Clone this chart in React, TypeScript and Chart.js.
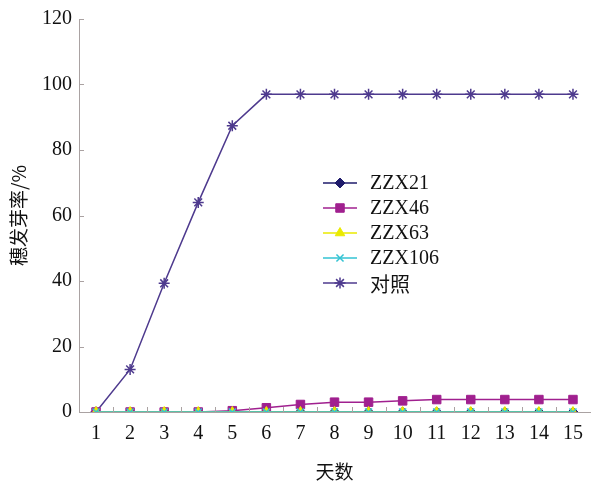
import React, { useEffect, useRef } from "react";
import { Chart, registerables } from "chart.js";
import { drawPoint } from "chart.js/helpers";

Chart.register(...registerables);

const days = ["1", "2", "3", "4", "5", "6", "7", "8", "9", "10", "11", "12", "13", "14", "15"];
const zzx21 = [0, 0, 0, 0, 0, 0, 0, 0, 0, 0, 0, 0, 0, 0, 0];
const zzx46 = [0, 0, 0, 0, 0.4, 1.3, 2.3, 3, 3, 3.4, 3.8, 3.8, 3.8, 3.8, 3.8];
const zzx63 = [0, 0, 0, 0, 0, 0, 0, 0, 0, 0, 0, 0, 0, 0, 0];
const zzx106 = [0, 0, 0, 0, 0, 0, 0, 0, 0, 0, 0, 0, 0, 0, 0];
const control = [0, 13, 39.3, 64, 87.4, 97, 97, 97, 97, 97, 97, 97, 97, 97, 97];
const seriesNames = ["ZZX21", "ZZX46", "ZZX63", "ZZX106", "对照"];
const yMin = 0;
const yMax = 120;
const yStep = 20;
const xTitle = "天数";
const yTitle = "穗发芽率/%";

const SERIF = "'Liberation Serif', 'Times New Roman', serif";
const CJK = "'Noto Sans CJK SC', 'Noto Sans', sans-serif";
const AXIS_COLOR = "#aaa2a2";

const innerTicks = {
  id: "innerTicks",
  afterDraw(chart: any) {
    const { ctx, chartArea, scales } = chart;
    const x = scales.x;
    const y = scales.y;
    ctx.save();
    ctx.strokeStyle = AXIS_COLOR;
    ctx.lineWidth = 1;
    ctx.beginPath();
    y.ticks.forEach((t: any) => {
      const py = Math.round(y.getPixelForValue(t.value)) + 0.5;
      ctx.moveTo(chartArea.left, py);
      ctx.lineTo(chartArea.left + 5, py);
    });
    for (let i = 0; i < days.length - 1; i++) {
      const px = Math.round((x.getPixelForValue(i) + x.getPixelForValue(i + 1)) / 2) + 0.5;
      ctx.moveTo(px, chartArea.bottom);
      ctx.lineTo(px, chartArea.bottom - 5);
    }
    ctx.stroke();
    ctx.restore();
  },
};

const customLegend = {
  id: "customLegend",
  afterDraw(chart: any) {
    const { ctx } = chart;
    const x0 = 323;
    const y0 = 183;
    const rowH = 25;
    ctx.save();
    chart.data.datasets.forEach((ds: any, i: number) => {
      const yy = y0 + i * rowH;
      ctx.strokeStyle = ds.borderColor;
      ctx.lineWidth = 1.5;
      ctx.beginPath();
      ctx.moveTo(x0, yy);
      ctx.lineTo(x0 + 34, yy);
      ctx.stroke();
      ctx.fillStyle = ds.pointBackgroundColor;
      ctx.strokeStyle = ds.pointBorderColor;
      ctx.lineWidth = ds.pointBorderWidth;
      drawPoint(ctx, { pointStyle: ds.pointStyle, radius: ds.pointRadius, rotation: 0, borderWidth: ds.pointBorderWidth }, x0 + 17, yy);
      ctx.fillStyle = "#111";
      ctx.textBaseline = "middle";
      ctx.textAlign = "left";
      ctx.font = i === 4 ? `20px ${CJK}` : `20px ${SERIF}`;
      ctx.fillText(ds.label, x0 + 47, yy + 1);
    });
    ctx.restore();
  },
};

export default function App() {
  const ref = useRef<HTMLCanvasElement | null>(null);
  useEffect(() => {
    if (!ref.current) return;
    const mk = (label: string, data: number[], color: string, style: string, radius: number, order: number, bw = 1) => ({
      label,
      data,
      borderColor: color,
      backgroundColor: color,
      pointBackgroundColor: color,
      pointBorderColor: color,
      pointBorderWidth: bw,
      pointStyle: style,
      pointRadius: radius,
      borderWidth: 1.5,
      tension: 0,
      order,
    });
    const chart = new Chart(ref.current, {
      type: "line",
      data: {
        labels: days,
        datasets: [
          mk(seriesNames[0], zzx21, "#1f1b6b", "rectRot", 5, 4),
          mk(seriesNames[1], zzx46, "#a0208f", "rect", 6, 3),
          mk(seriesNames[2], zzx63, "#eaea00", "triangle", 5.5, 2),
          mk(seriesNames[3], zzx106, "#33c3d3", "crossRot", 5, 1, 1.5),
          mk(seriesNames[4], control, "#4e3a8e", "star", 5.5, 5, 1.5),
        ] as any,
      },
      options: {
        animation: false,
        responsive: true,
        maintainAspectRatio: false,
        layout: { padding: { left: 0, right: 0, top: 19, bottom: 0 } },
        plugins: { legend: { display: false }, tooltip: { enabled: false } },
        scales: {
          x: {
            type: "category",
            offset: true,
            grid: { display: false, drawTicks: false },
            border: { display: true, color: AXIS_COLOR, width: 1 },
            ticks: { color: "#111", font: { family: SERIF, size: 20 }, padding: 10, maxRotation: 0, autoSkip: false },
            title: { display: true, text: xTitle, color: "#111", font: { family: CJK, size: 19 }, padding: { top: 0, bottom: 3 } },
            afterFit: (s: any) => { s.height = 74; },
          },
          y: {
            min: yMin,
            max: yMax,
            grid: { display: false, drawTicks: false },
            border: { display: true, color: AXIS_COLOR, width: 1 },
            ticks: { stepSize: yStep, color: "#111", font: { family: SERIF, size: 20 }, padding: 7 },
            title: { display: true, text: yTitle, color: "#111", font: { family: CJK, size: 19 }, padding: { top: 7, bottom: 0 } },
            afterFit: (s: any) => { s.width = 79; },
          },
        },
      },
      plugins: [innerTicks, customLegend],
    });
    return () => chart.destroy();
  }, []);
  return (
    <div style={{ position: "fixed", left: 0, top: 0, width: 597, height: 486, background: "#fff" }}>
      <canvas ref={ref} />
    </div>
  );
}
